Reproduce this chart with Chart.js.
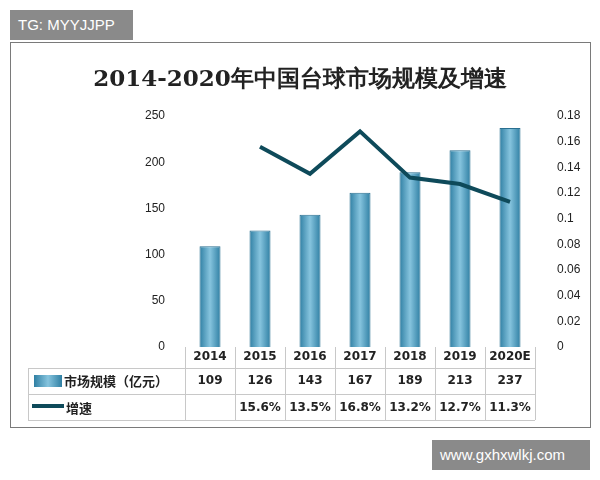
<!DOCTYPE html><html><head><meta charset="utf-8">
<script src="https://cdn.jsdelivr.net/npm/chart.js@4/dist/chart.umd.min.js"></script>
<style>body{margin:0;background:#fff;font-family:"Noto Sans CJK SC",sans-serif}
#wrap{position:relative;width:600px;height:480px}
.wm{position:absolute;background:#8a8a8a;color:#fff;font-family:"Liberation Sans",Arial;font-size:15px;line-height:30px;padding:0 8px}
</style></head><body><div id="wrap"><canvas id="c" width="600" height="480"></canvas>
<div class="wm" style="left:10px;top:10px;width:107px">TG: MYYJJPP</div>
<div class="wm" style="left:432px;top:440px;width:142px">www.gxhxwlkj.com</div></div>
<script>
const categories=['2014','2015','2016','2017','2018','2019','2020E'];
const marketSize=[109,126,143,167,189,213,237];
const growth=[null,0.156,0.135,0.168,0.132,0.127,0.113];
const growthLabels=['','15.6%','13.5%','16.8%','13.2%','12.7%','11.3%'];
const seriesNames=['市场规模（亿元）','增速'];
const title='2014-2020年中国台球市场规模及增速';
const BP=0.42;
function grad(c,x0,x1){const g=c.createLinearGradient(x0,0,x1,0);g.addColorStop(0,'#2f7fa3');g.addColorStop(.5,'#86c4de');g.addColorStop(1,'#2f7fa3');return g;}
const tablePlugin={id:'tbl',afterDraw(ch){const c=ch.ctx,x=ch.scales.x,a=ch.chartArea;c.save();
c.strokeStyle='#7a7a7a';c.lineWidth=1;c.strokeRect(10.5,42.5,580,385);
c.fillStyle='#222';c.font='bold 23px "DejaVu Serif",serif';c.textAlign='center';c.textBaseline='middle';c.fillText(title,300,80);
const rows=[347,368,394,420];const left=28,right=a.right;
c.strokeStyle='#c8c8c8';
rows.slice(1).forEach(y=>{c.beginPath();c.moveTo(left,y+.5);c.lineTo(right,y+.5);c.stroke();});
c.beginPath();c.moveTo(left+.5,368);c.lineTo(left+.5,420);c.stroke();
const w=x.getPixelForValue(1)-x.getPixelForValue(0);
for(let i=0;i<=categories.length;i++){const px=Math.round(x.getPixelForValue(0)-w/2+i*w)+.5;c.beginPath();c.moveTo(px,a.bottom);c.lineTo(px,420);c.stroke();}
c.font='bold 12px "DejaVu Sans",sans-serif';c.fillStyle='#222';
categories.forEach((s,i)=>{const px=x.getPixelForValue(i);c.fillText(s,px,357);c.fillText(String(marketSize[i]),px,381);c.fillText(growthLabels[i],px,408);});
c.fillStyle=grad(c,34,62);c.fillRect(34,375,28,12);
c.strokeStyle='#0e4a5a';c.lineWidth=4;c.beginPath();c.moveTo(32,406);c.lineTo(64,406);c.stroke();
c.fillStyle='#222';c.textAlign='left';c.font='bold 13px "Noto Sans CJK SC"';c.fillText(seriesNames[0],64,381);c.fillText(seriesNames[1],66,408);
c.restore();}};
new Chart(document.getElementById('c'),{data:{labels:categories,datasets:[
{type:'line',data:growth,yAxisID:'y1',borderColor:'#0e4a5a',borderWidth:4,pointRadius:0,spanGaps:false,tension:0},
{type:'bar',data:marketSize,yAxisID:'y',categoryPercentage:1,barPercentage:BP,borderWidth:1,borderColor:'#2a6f90',
backgroundColor:(ctx)=>{const ch=ctx.chart,x=ch.scales&&ch.scales.x;if(!x||ctx.dataIndex==null)return '#4a9bbf';const cx=x.getPixelForValue(ctx.dataIndex),hw=(x.getPixelForValue(1)-x.getPixelForValue(0))*BP/2;if(!isFinite(cx)||!isFinite(hw))return '#4a9bbf';return grad(ch.ctx,cx-hw,cx+hw);}}]},
options:{animation:false,responsive:false,layout:{padding:{left:20,right:15,top:116,bottom:133}},plugins:{legend:{display:false},tooltip:{enabled:false}},
scales:{x:{display:false,offset:true,grid:{display:false}},
y:{position:'left',min:0,max:250,ticks:{stepSize:50,color:'#222',font:{size:12},padding:12},grid:{display:false},border:{display:false},afterFit(s){s.width=165;}},
y1:{position:'right',min:0,max:0.18,ticks:{stepSize:0.02,color:'#222',font:{size:12},padding:14,callback:v=>v===0?'0':+v.toFixed(2)},grid:{display:false},border:{display:false},afterFit(s){s.width=50;}}}},
plugins:[tablePlugin]});
</script></body></html>
